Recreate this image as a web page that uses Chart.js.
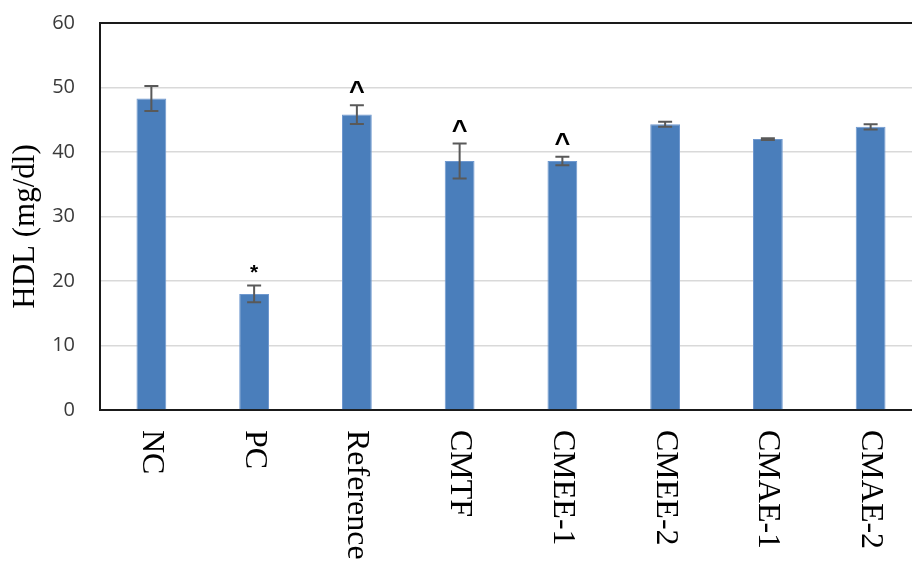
<!DOCTYPE html>
<html>
<head>
<meta charset="utf-8">
<script src="https://cdn.jsdelivr.net/npm/chart.js@4"></script>
<style>
  html, body { margin: 0; padding: 0; background: #fff; overflow: hidden; }
  #wrap { width: 930px; height: 562px; }
</style>
</head>
<body>
<div id="wrap"><canvas id="c" width="930" height="562"></canvas></div>
<script>
const categories = ['NC', 'PC', 'Reference', 'CMTF', 'CMEE-1', 'CMEE-2', 'CMAE-1', 'CMAE-2'];
const hdlMeans = [48.3, 18.0, 45.8, 38.6, 38.6, 44.3, 42.0, 43.9];
const hdlErrors = [1.95, 1.3, 1.45, 2.7, 0.65, 0.4, 0.15, 0.4];
const sigMarks = ['', '*', '^', '^', '^', '', '', ''];
const yTicks = [0, 10, 20, 30, 40, 50, 60];
const yTitle = 'HDL (mg/dl)';

const overlayPlugin = {
  id: 'overlay',
  afterDatasetsDraw(chart) {
    const ctx = chart.ctx;
    const x = chart.scales.x, y = chart.scales.y;
    ctx.save();
    // error bars
    ctx.strokeStyle = '#595959';
    ctx.lineWidth = 2;
    hdlMeans.forEach((m, i) => {
      const px = x.getPixelForValue(i);
      const top = y.getPixelForValue(m + hdlErrors[i]);
      const bot = y.getPixelForValue(m - hdlErrors[i]);
      ctx.beginPath();
      ctx.moveTo(px, top); ctx.lineTo(px, bot);
      ctx.moveTo(px - 7, top); ctx.lineTo(px + 7, top);
      ctx.moveTo(px - 7, bot); ctx.lineTo(px + 7, bot);
      ctx.stroke();
    });
    // significance marks
    ctx.fillStyle = '#000';
    ctx.textAlign = 'center';
    ctx.textBaseline = 'alphabetic';
    sigMarks.forEach((s, i) => {
      if (!s) return;
      const px = x.getPixelForValue(i);
      const top = y.getPixelForValue(hdlMeans[i] + hdlErrors[i]);
      const cy = top - 19;
      if (s === '^') {
        ctx.font = 'bold 27px "Liberation Sans"';
        ctx.fillText(s, px, cy + 14);
      } else {
        ctx.font = 'bold 21px "Liberation Sans"';
        ctx.fillText(s, px, cy + 12);
      }
    });
    ctx.restore();
  },
  afterDraw(chart) {
    const ctx = chart.ctx;
    const x = chart.scales.x;
    const area = chart.chartArea;
    const base = area.bottom + 20;
    ctx.save();
    ctx.fillStyle = '#000';
    ctx.font = '32px "Liberation Serif"';
    ctx.textAlign = 'left';
    ctx.textBaseline = 'middle';
    categories.forEach((c, i) => {
      const px = x.getPixelForValue(i);
      ctx.save();
      ctx.translate(px, base);
      ctx.rotate(Math.PI / 2);
      ctx.fillText(c, 0, 0);
      ctx.restore();
    });
    // y axis title
    ctx.font = '31px "Liberation Serif"';
    ctx.textAlign = 'center';
    ctx.textBaseline = 'middle';
    ctx.translate(26, (area.top + area.bottom) / 2 + 10);
    ctx.rotate(-Math.PI / 2);
    ctx.fillText(yTitle, 0, 0);
    ctx.restore();
  }
};

new Chart(document.getElementById('c'), {
  type: 'bar',
  data: {
    labels: categories,
    datasets: [{
      label: 'HDL',
      data: hdlMeans,
      backgroundColor: '#4A7EBB',
      borderColor: '#7099CF',
      borderWidth: 1,
      barPercentage: 0.29,
      categoryPercentage: 1.0
    }]
  },
  options: {
    responsive: false,
    devicePixelRatio: 1,
    animation: false,
    layout: { padding: { top: 23, bottom: 152, left: 0, right: 8 } },
    plugins: { legend: { display: false }, tooltip: { enabled: false } },
    scales: {
      x: {
        ticks: { display: false },
        grid: { display: false, drawTicks: false },
        border: { display: true, color: '#1a1a1a', width: 2 }
      },
      y: {
        min: 0, max: 60,
        afterFit(scale) { scale.width = 100; scale.paddingTop = 0; scale.paddingBottom = 0; },
        afterBuildTicks(scale) { scale.ticks = yTicks.map(v => ({ value: v })); },
        ticks: {
          padding: 25,
          color: '#3a3a3a',
          font: { family: '"Open Sans"', size: 20 }
        },
        grid: {
          drawTicks: false,
          color: c => (c.tick && c.tick.value === 60) ? '#1a1a1a' : '#d9d9d9',
          lineWidth: c => (c.tick && c.tick.value === 60) ? 2 : 1.5
        },
        border: { display: true, color: '#1a1a1a', width: 2 },
        title: { display: false }
      }
    }
  },
  plugins: [overlayPlugin]
});
</script>
</body>
</html>
